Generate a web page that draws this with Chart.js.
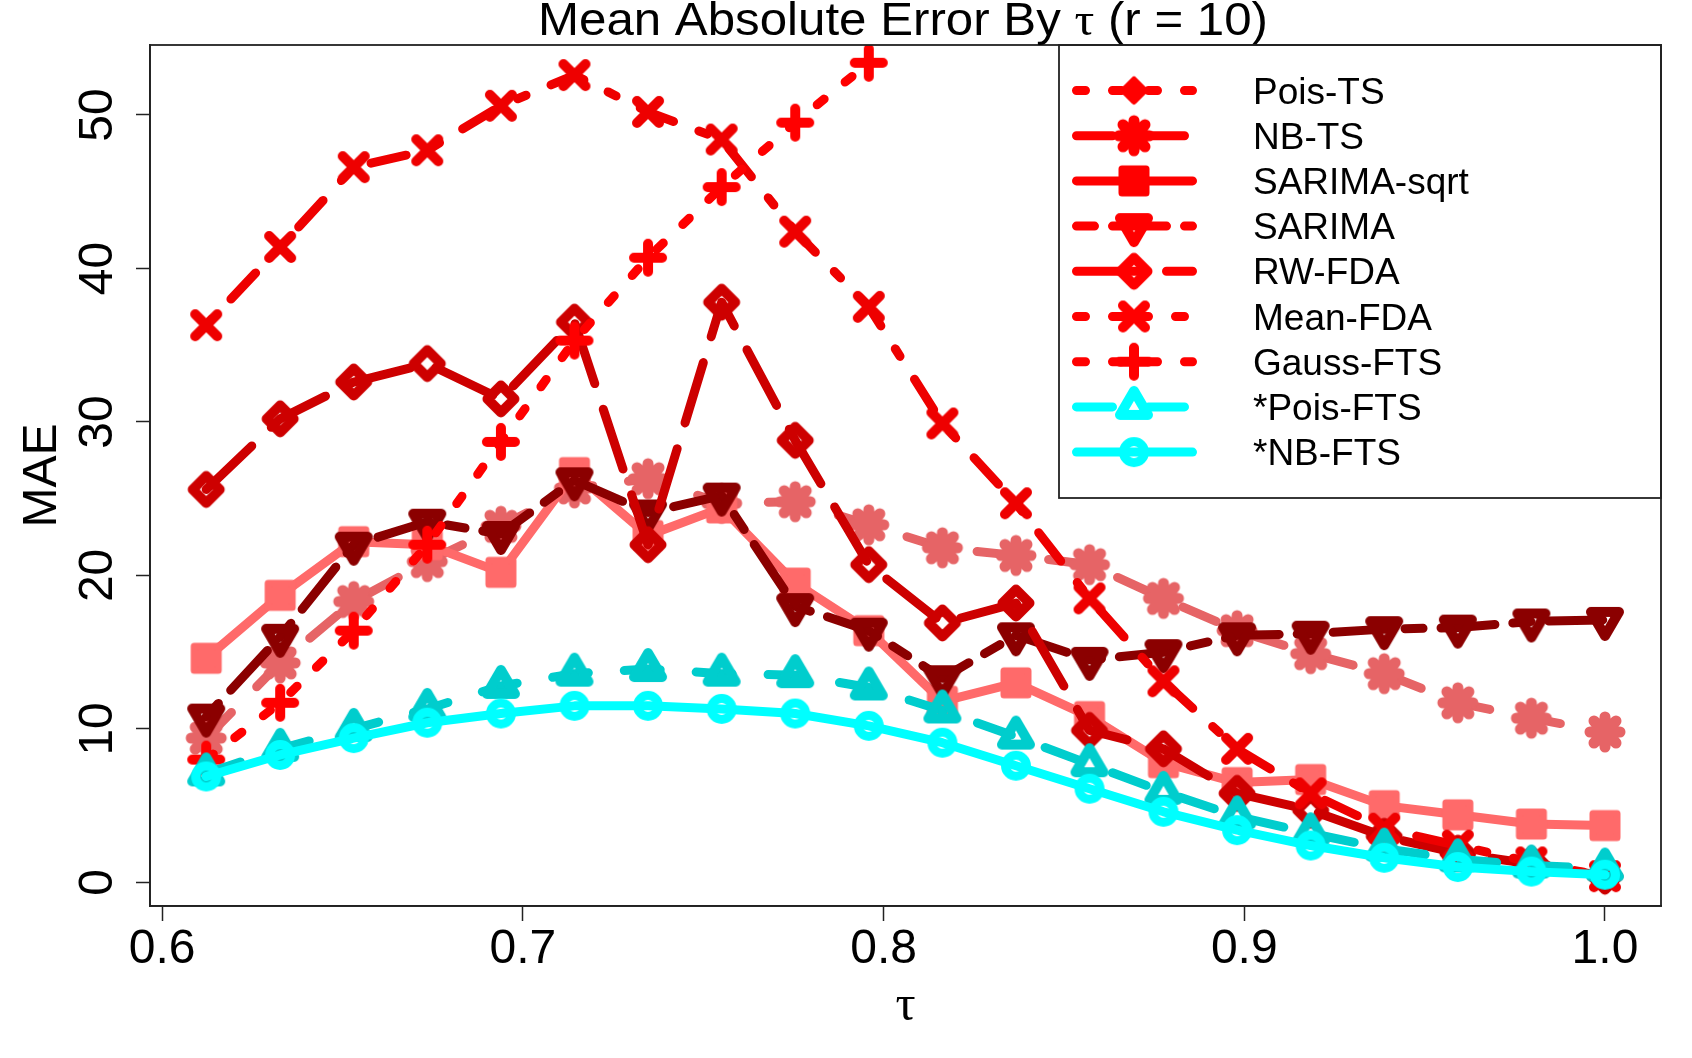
<!DOCTYPE html>
<html>
<head>
<meta charset="utf-8">
<script src="https://cdn.jsdelivr.net/npm/chart.js@4.4.1/dist/chart.umd.min.js"></script>
<style>
  html, body { margin: 0; padding: 0; background: #fff; }
  canvas { display: block; }
</style>
</head>
<body>
<canvas id="maeChart" width="1692" height="1058"></canvas>
<script>
// --- data ---
const TAU = [0.6122, 0.6327, 0.6531, 0.6735, 0.6939, 0.7143, 0.7347, 0.7551, 0.7755, 0.7959,
             0.8163, 0.8367, 0.8571, 0.8776, 0.8980, 0.9184, 0.9388, 0.9592, 0.9796, 1.0];
const X_TICKS = [0.6, 0.7, 0.8, 0.9, 1.0];
const Y_TICKS = [0, 10, 20, 30, 40, 50];

const SERIES_NAMES = ['Pois-TS', 'NB-TS', 'SARIMA-sqrt', 'SARIMA', 'RW-FDA', 'Mean-FDA', 'Gauss-FTS', '*Pois-FTS', '*NB-FTS'];

// Pois-TS lies above the visible range everywhere
const poisTS     = [null, null, null, null, null, null, null, null, null, null,
                    null, null, null, null, null, null, null, null, null, null];
const nbTS       = [9.4, 14.3, 18.3, 20.9, 23.2, 25.7, 26.3, 24.7, 24.8, 23.3, 21.8, 21.3, 20.7, 18.5, 16.4, 14.9, 13.6, 11.7, 10.7, 9.8];
const sarimaSqrt = [14.6, 18.7, 22.2, 22.0, 20.2, 26.7, 22.6, 24.4, 19.5, 16.4, 11.8, 13.0, 10.8, 7.8, 6.5, 6.7, 5.0, 4.4, 3.8, 3.7];
const sarima     = [10.8, 16.0, 22.0, 23.5, 22.7, 26.2, 24.1, 25.2, 18.0, 16.4, 13.3, 16.1, 14.5, 15.0, 16.1, 16.2, 16.5, 16.6, 17.0, 17.1];
const rwFDA      = [25.6, 30.2, 32.6, 33.8, 31.5, 36.5, 22.0, 37.8, 28.8, 20.7, 16.9, 18.2, 9.9, 8.7, 5.8, 4.7, 3.0, 1.9, 1.2, 0.4];
const meanFDA    = [36.3, 41.4, 46.6, 47.7, 50.6, 52.6, 50.2, 48.4, 42.4, 37.5, 29.9, 24.7, 18.5, 13.1, 8.7, 5.8, 3.5, 2.4, 1.3, 0.4];
const gaussFTS   = [8.0, 11.7, 16.4, 22.0, 28.7, 35.3, 40.7, 45.3, 49.5, 53.4,
                    null, null, null, null, null, null, null, null, null, null];
const poisFTS    = [7.1, 8.7, 10.0, 11.3, 12.8, 13.6, 13.9, 13.6, 13.5, 12.7, 11.2, 9.5, 7.7, 5.9, 4.3, 3.2, 2.2, 1.5, 1.1, 0.9];
const nbFTS      = [6.9, 8.3, 9.4, 10.4, 11.0, 11.5, 11.5, 11.3, 11.0, 10.2, 9.1, 7.6, 6.1, 4.6, 3.4, 2.4, 1.6, 1.0, 0.7, 0.5];

const SERIES_VALUES = [poisTS, nbTS, sarimaSqrt, sarima, rwFDA, meanFDA, gaussFTS, poisFTS, nbFTS];

// --- looks (R style: thick lines, round caps) ---
const LW = 9;      // line width
const MW = 10;     // marker stroke width
const STYLES = [
  { color: '#FF0000', legend: '#FF0000', dash: [9, 27],          shape: 'diamondFilled' },
  { color: '#E66466', legend: '#FF0000', dash: [36, 36],         shape: 'asterisk' },
  { color: '#FF6A6A', legend: '#FF0000', dash: [],               shape: 'square' },
  { color: '#8B0000', legend: '#FF0000', dash: [18, 18, 54, 18], shape: 'triDown' },
  { color: '#CD0000', legend: '#FF0000', dash: [63, 27],         shape: 'diamond' },
  { color: '#EE0000', legend: '#FF0000', dash: [9, 27, 36, 27],  shape: 'x' },
  { color: '#FF0000', legend: '#FF0000', dash: [9, 27],          shape: 'plus' },
  { color: '#00CDCD', legend: '#00FFFF', dash: [36, 36],         shape: 'triUp' },
  { color: '#00FFFF', legend: '#00FFFF', dash: [],               shape: 'circle' }
];

// small canvases used as point styles
function makeMarker(shape, color) {
  const size = 64, c = size / 2;
  const cv = document.createElement('canvas');
  cv.width = size; cv.height = size;
  const g = cv.getContext('2d');
  g.translate(c, c);
  g.strokeStyle = color; g.fillStyle = color;
  g.lineWidth = MW; g.lineCap = 'round'; g.lineJoin = 'round';
  g.beginPath();
  if (shape === 'x' || shape === 'asterisk') {
    const a = 11;
    if (shape === 'asterisk') g.lineWidth = 11;
    g.moveTo(-a, -a); g.lineTo(a, a);
    g.moveTo(-a, a); g.lineTo(a, -a);
  }
  if (shape === 'plus' || shape === 'asterisk') {
    const b = shape === 'plus' ? 14 : 15;
    g.moveTo(-b, 0); g.lineTo(b, 0);
    g.moveTo(0, -b); g.lineTo(0, b);
  }
  if (shape === 'diamond' || shape === 'diamondFilled') {
    const r = shape === 'diamond' ? 13.5 : 11;
    g.moveTo(0, -r); g.lineTo(r, 0); g.lineTo(0, r); g.lineTo(-r, 0); g.closePath();
    if (shape === 'diamondFilled') { g.fill(); g.lineWidth = 6; }
  }
  if (shape === 'square') {
    const h = 12;
    g.rect(-h, -h, 2 * h, 2 * h);
    g.fill(); g.lineWidth = 7;
  }
  if (shape === 'triUp' || shape === 'triDown') {
    const r = 16, xc = 14, yc = 8, s = shape === 'triUp' ? 1 : -1;
    g.moveTo(0, -r * s); g.lineTo(xc, yc * s); g.lineTo(-xc, yc * s); g.closePath();
  }
  if (shape === 'circle') {
    g.lineWidth = 9;
    g.arc(0, 0, 10.5, 0, Math.PI * 2);
  }
  g.stroke();
  return cv;
}

const datasets = SERIES_NAMES.map((name, i) => {
  const st = STYLES[i];
  return {
    label: name,
    data: TAU.map((t, k) => ({ x: t, y: SERIES_VALUES[i][k] })),
    borderColor: st.color,
    backgroundColor: st.color,
    borderWidth: LW,
    borderDash: st.dash,
    borderCapStyle: 'round',
    borderJoinStyle: 'round',
    pointStyle: makeMarker(st.shape, st.color),
    pointRadius: 1,
    pointHoverRadius: 1,
    tension: 0,
    spanGaps: false,
    clip: 0,
    order: SERIES_NAMES.length - i   // first series drawn first, like R
  };
});

const SANS = '"Liberation Sans", Arial, sans-serif';
const SERIF = '"Liberation Serif", "Times New Roman", serif';

const decorations = {
  id: 'decorations',
  beforeDraw(chart) {
    const ctx = chart.ctx;
    ctx.save();
    ctx.fillStyle = '#fff';
    ctx.fillRect(0, 0, chart.width, chart.height);
    ctx.restore();
  },
  afterDraw(chart) {
    const ctx = chart.ctx;
    const a = chart.chartArea;
    const ys = chart.scales.y;
    ctx.save();

    // plot box
    ctx.strokeStyle = '#222';
    ctx.lineWidth = 1.8;
    ctx.setLineDash([]);
    ctx.strokeRect(a.left, a.top, a.right - a.left, a.bottom - a.top);

    // title, with a serif tau
    const parts = [['Mean Absolute Error By ', SANS], ['\u03C4', SERIF], [' (r = 10)', SANS]];
    ctx.fillStyle = '#000';
    ctx.textBaseline = 'alphabetic';
    ctx.textAlign = 'left';
    let total = 0;
    parts.forEach(p => { ctx.font = '46px ' + p[1]; total += ctx.measureText(p[0]).width; });
    const want = 730;
    ctx.save();
    ctx.translate(903 - want / 2, 35);
    ctx.scale(want / total, 1);
    let xx = 0;
    parts.forEach(p => { ctx.font = '46px ' + p[1]; ctx.fillText(p[0], xx, 0); xx += ctx.measureText(p[0]).width; });
    ctx.restore();

    // y tick labels, rotated like R's default
    ctx.font = '48px ' + SANS;
    ctx.textAlign = 'center';
    ys.ticks.forEach(t => {
      const py = ys.getPixelForValue(t.value);
      ctx.save();
      ctx.translate(112, py);
      ctx.rotate(-Math.PI / 2);
      ctx.fillText(String(t.value), 0, 0);
      ctx.restore();
    });

    // axis titles
    ctx.save();
    ctx.translate(56, (a.top + a.bottom) / 2);
    ctx.rotate(-Math.PI / 2);
    ctx.fillText('MAE', 0, 0);
    ctx.restore();
    ctx.font = '50px ' + SERIF;
    ctx.fillText('\u03C4', (a.left + a.right) / 2, 1020);

    // legend
    const lx = 1059, ly = a.top, lw = a.right - lx, lh = 453;
    ctx.strokeStyle = '#222';
    ctx.lineWidth = 1.8;
    ctx.strokeRect(lx, ly, lw, lh);
    ctx.font = '37px ' + SANS;
    ctx.textAlign = 'left';
    SERIES_NAMES.forEach((name, i) => {
      const st = STYLES[i];
      const y = 90.5 + i * 45.2;
      ctx.save();
      ctx.strokeStyle = st.legend;
      ctx.lineWidth = LW;
      ctx.lineCap = 'round';
      ctx.setLineDash(st.dash);
      ctx.beginPath();
      ctx.moveTo(1076.5, y);
      ctx.lineTo(1192.5, y);
      ctx.stroke();
      ctx.restore();
      const m = makeMarker(st.shape, st.legend);
      ctx.drawImage(m, 1134 - m.width / 2, y - m.height / 2);
      ctx.fillStyle = '#000';
      ctx.fillText(name, 1253, y + 13);
    });

    ctx.restore();
  }
};

new Chart(document.getElementById('maeChart').getContext('2d'), {
  type: 'line',
  data: { datasets: datasets },
  options: {
    responsive: false,
    animation: false,
    devicePixelRatio: 1,
    layout: { padding: { top: 45, right: 31, left: 0, bottom: 0 } },
    plugins: { legend: { display: false }, tooltip: { enabled: false }, title: { display: false } },
    scales: {
      x: {
        type: 'linear',
        min: 0.59662,
        max: 1.01553,
        afterBuildTicks: s => { s.ticks = X_TICKS.map(v => ({ value: v })); },
        afterFit: s => { s.height = 152; },
        grid: { drawOnChartArea: false, drawTicks: true, tickLength: 15, tickColor: '#222', tickWidth: 1.5 },
        border: { display: true, color: '#222', width: 1.8 },
        ticks: {
          autoSkip: false, maxRotation: 0, padding: 0, color: '#000',
          font: { family: SANS, size: 48 },
          callback: v => v.toFixed(1)
        }
      },
      y: {
        type: 'linear',
        min: -1.54,
        max: 54.56,
        afterBuildTicks: s => { s.ticks = Y_TICKS.map(v => ({ value: v })); },
        afterFit: s => { s.width = 150; },
        grid: { drawOnChartArea: false, drawTicks: true, tickLength: 14, tickColor: '#222', tickWidth: 1.5 },
        border: { display: true, color: '#222', width: 1.8 },
        ticks: { display: false }
      }
    }
  },
  plugins: [decorations]
});
</script>
</body>
</html>
